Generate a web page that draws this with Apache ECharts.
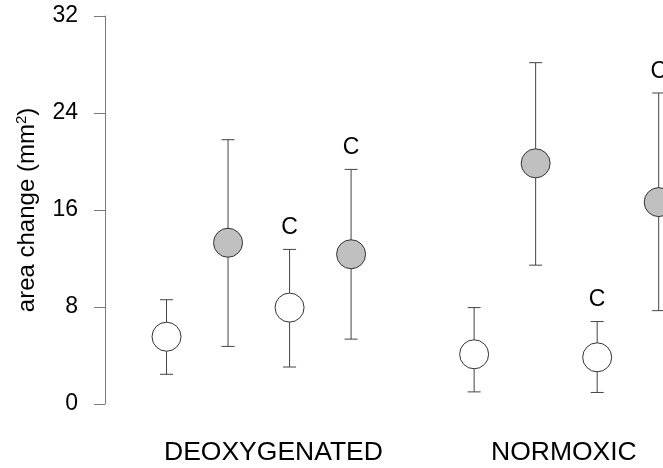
<!DOCTYPE html>
<html>
<head>
<meta charset="utf-8">
<script src="https://cdn.jsdelivr.net/npm/echarts@6/dist/echarts.min.js"></script>
<style>
  html, body { margin: 0; padding: 0; background: #fff; }
  #chart { width: 663px; height: 468px; }
</style>
</head>
<body>
<div id="chart"></div>
<script>
// Treatment positions along the horizontal axis (gap between the two groups)
var positions = [1, 2, 3, 4, 6, 7, 8, 9];
// Mean area change (mm^2) and error-bar limits
var means = [5.55, 13.3, 7.95, 12.35, 4.1, 19.85, 3.85, 16.65];
var upper = [8.6, 21.8, 12.75, 19.35, 7.95, 28.15, 6.8, 25.65];
var lower = [2.45, 4.75, 3.05, 5.35, 1.0, 11.45, 0.95, 7.7];
// Marker fill style per treatment: open or shaded
var fills = ['open', 'shaded', 'open', 'shaded', 'open', 'shaded', 'open', 'shaded'];
// Significance letters above bars
var sigLetters = ['', '', 'C', 'C', '', '', 'C', 'C'];
// Group names and y-axis ticks
var groups = ['DEOXYGENATED', 'NORMOXIC'];
var yTicks = [0, 8, 16, 24, 32];

var FONT = '"Liberation Sans", Arial, sans-serif';

var errData = positions.map(function (p, i) {
  return [p, lower[i], upper[i], sigLetters[i]];
});
var openData = [], shadedData = [];
positions.forEach(function (p, i) {
  (fills[i] === 'open' ? openData : shadedData).push([p, means[i]]);
});

var chart = echarts.init(document.getElementById('chart'), null, { renderer: 'canvas' });
chart.setOption({
  animation: false,
  backgroundColor: '#fff',
  grid: { left: 105, right: 0, top: 16, bottom: 64 },
  xAxis: {
    type: 'value', min: 0, max: 9.07,
    show: false
  },
  yAxis: {
    type: 'value',
    min: yTicks[0], max: yTicks[yTicks.length - 1], interval: 8,
    name: 'area change (mm{sup|2})',
    nameLocation: 'middle',
    nameGap: 64,
    nameTextStyle: {
      fontFamily: FONT, fontSize: 24, color: '#000', lineHeight: 27,
      rich: { sup: { fontFamily: FONT, fontSize: 15, color: '#000', verticalAlign: 'top', lineHeight: 15 } }
    },
    axisLine: { show: true, lineStyle: { color: '#7a7a7a', width: 1 } },
    axisTick: { show: true, length: 11, lineStyle: { color: '#7a7a7a' } },
    axisLabel: { fontFamily: FONT, fontSize: 23, color: '#000', margin: 27 },
    splitLine: { show: false }
  },
  graphic: [
    { type: 'text', left: 164, top: 439, style: { text: groups[0], font: '26.5px ' + FONT, fill: '#000' } },
    { type: 'text', left: 491, top: 439, style: { text: groups[1], font: '26.5px ' + FONT, fill: '#000' } }
  ],
  series: [
    {
      type: 'custom',
      data: errData,
      z: 1,
      renderItem: function (params, api) {
        var x = api.value(0);
        var lo = api.coord([x, api.value(1)]);
        var hi = api.coord([x, api.value(2)]);
        var cap = 6.5;
        var st = { stroke: '#444', lineWidth: 1 };
        var children = [
          { type: 'line', shape: { x1: hi[0], y1: hi[1], x2: lo[0], y2: lo[1] }, style: st },
          { type: 'line', shape: { x1: hi[0] - cap, y1: hi[1], x2: hi[0] + cap, y2: hi[1] }, style: st },
          { type: 'line', shape: { x1: lo[0] - cap, y1: lo[1], x2: lo[0] + cap, y2: lo[1] }, style: st }
        ];
        var letter = api.value(3);
        if (letter) {
          children.push({
            type: 'text',
            style: {
              text: letter, x: hi[0], y: hi[1] - 10,
              align: 'center', verticalAlign: 'bottom',
              font: '23px ' + FONT, fill: '#000'
            }
          });
        }
        return { type: 'group', children: children };
      }
    },
    {
      type: 'scatter',
      data: openData,
      z: 3,
      symbol: 'circle',
      symbolSize: 29,
      itemStyle: { color: '#ffffff', borderColor: '#333', borderWidth: 1, opacity: 1 }
    },
    {
      type: 'scatter',
      data: shadedData,
      z: 3,
      symbol: 'circle',
      symbolSize: 29,
      itemStyle: { color: '#c0c0c0', borderColor: '#333', borderWidth: 1, opacity: 1 }
    }
  ]
});
</script>
</body>
</html>
